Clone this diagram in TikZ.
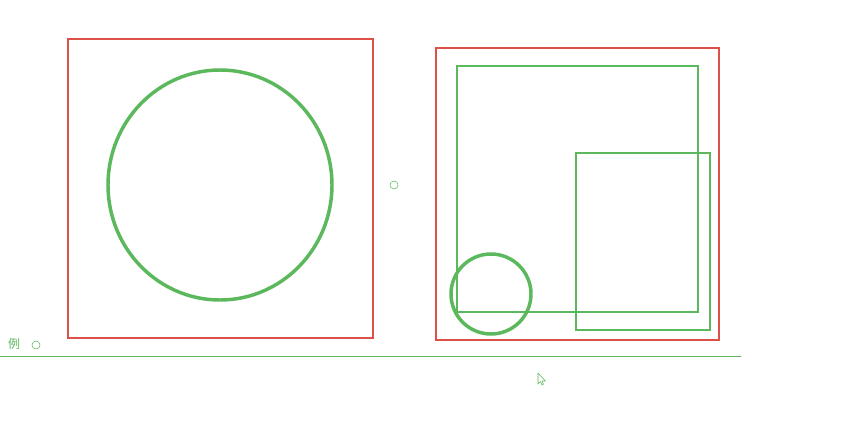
\documentclass[tikz,border=0pt]{standalone}
\usepackage{fontspec}
\newfontfamily\cjk{Noto Sans CJK SC}
\usepackage{xcolor}
\usepackage{tikz}
\definecolor{redc}{HTML}{DC5048}
\definecolor{grnc}{HTML}{5CB85C}
\tikzset{
  frm/.style={draw=redc,line width=1.5pt},
  sq/.style={draw=grnc,line width=1.9pt},
  cir/.style={draw=grnc,line width=2.6pt},
  dot/.style={circle,draw=grnc,thin,minimum size=6pt,inner sep=0pt}
}
\begin{document}
\begin{tikzpicture}[x=0.75pt,y=-0.75pt]
\useasboundingbox[fill=white] (0,0) rectangle (854,444);
% left
\draw[frm] (68,39) rectangle (373,338);
\draw[cir] (220,185) ellipse [x radius=112,y radius=115];
\node[dot] (mid) at (394,185) {};
% right
\draw[frm] (436,48) rectangle (719,340);
\draw[sq] (457,66) rectangle (698,312);
\draw[sq] (576,153) rectangle (710,330);
\draw[cir] (491,294) circle (40);
% bottom
\node[font=\cjk\small,text=grnc] (lbl) at (14,344) {例};
\node[dot] (key) at (36,345) {};
\draw[grnc,thin] (0,356) -- (741,356);
\draw[grnc,thin,line join=round] (538,373) -- (538,384) -- (540.5,381.5) -- (542,385) -- (543.5,384.3) -- (542,381) -- (545.5,381) -- cycle;
\end{tikzpicture}
\end{document}
